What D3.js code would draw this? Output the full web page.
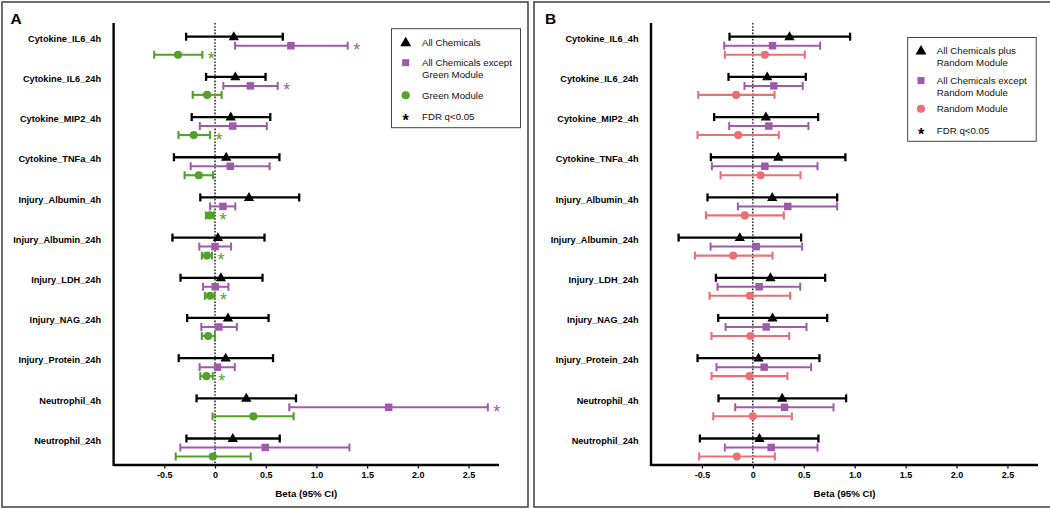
<!DOCTYPE html>
<html><head><meta charset="utf-8">
<script src="https://cdn.jsdelivr.net/npm/d3@7"></script>
<style>
html,body{margin:0;padding:0;background:#fff;}
svg{display:block;font-family:"Liberation Sans",Arial,sans-serif;}
</style></head>
<body><svg id="chart" width="1050" height="509"></svg>
<script>
const categories = ["Cytokine_IL6_4h","Cytokine_IL6_24h","Cytokine_MIP2_4h","Cytokine_TNFa_4h","Injury_Albumin_4h","Injury_Albumin_24h","Injury_LDH_24h","Injury_NAG_24h","Injury_Protein_24h","Neutrophil_4h","Neutrophil_24h"];
const tickValues = [-0.5, 0, 0.5, 1.0, 1.5, 2.0, 2.5];
const tickLabels = ["-0.5","0","0.5","1.0","1.5","2.0","2.5"];
const xTitle = "Beta (95% CI)";

// Panel A
const aAllEst = [0.185, 0.20, 0.155, 0.11, 0.335, 0.028, 0.058, 0.128, 0.105, 0.308, 0.175];
const aAllLo  = [-0.285, -0.088, -0.23, -0.405, -0.145, -0.42, -0.34, -0.275, -0.358, -0.182, -0.282];
const aAllHi  = [0.668, 0.498, 0.545, 0.635, 0.83, 0.488, 0.468, 0.528, 0.572, 0.798, 0.638];
const aAllStar = [0,0,0,0,0,0,0,0,0,0,0];

const aExcEst = [0.748, 0.348, 0.175, 0.15, 0.078, 0.0, 0.002, 0.038, 0.025, 1.712, 0.495];
const aExcLo  = [0.198, 0.082, -0.15, -0.24, -0.048, -0.155, -0.118, -0.135, -0.152, 0.732, -0.342];
const aExcHi  = [1.308, 0.618, 0.51, 0.538, 0.2, 0.158, 0.132, 0.215, 0.195, 2.69, 1.325];
const aExcStar = [1,1,0,0,0,0,0,0,0,1,0];

const aModEst = [-0.365, -0.078, -0.21, -0.16, -0.05, -0.08, -0.05, -0.068, -0.085, 0.378, -0.022];
const aModLo  = [-0.60, -0.22, -0.36, -0.30, -0.09, -0.13, -0.10, -0.13, -0.145, -0.025, -0.388];
const aModHi  = [-0.125, 0.065, -0.05, -0.02, -0.01, -0.03, -0.005, -0.002, -0.022, 0.775, 0.352];
const aModStar = [1,0,1,0,1,1,1,0,1,0,0];

// Panel B
const bAllEst = [0.36, 0.141, 0.128, 0.249, 0.19, -0.128, 0.173, 0.193, 0.056, 0.288, 0.065];
const bAllLo  = [-0.229, -0.239, -0.38, -0.412, -0.445, -0.729, -0.363, -0.34, -0.543, -0.337, -0.52];
const bAllHi  = [0.955, 0.52, 0.641, 0.909, 0.828, 0.474, 0.71, 0.73, 0.654, 0.916, 0.644];
const bAllStar = [0,0,0,0,0,0,0,0,0,0,0];

const bExcEst = [0.193, 0.206, 0.157, 0.118, 0.343, 0.033, 0.062, 0.131, 0.111, 0.311, 0.18];
const bExcLo  = [-0.281, -0.082, -0.232, -0.402, -0.147, -0.415, -0.347, -0.268, -0.357, -0.173, -0.275];
const bExcHi  = [0.661, 0.49, 0.546, 0.635, 0.828, 0.484, 0.465, 0.527, 0.572, 0.792, 0.635];
const bExcStar = [0,0,0,0,0,0,0,0,0,0,0];

const bModEst = [0.118, -0.164, -0.144, 0.075, -0.079, -0.193, -0.029, -0.023, -0.033, 0.0, -0.157];
const bModLo  = [-0.275, -0.536, -0.543, -0.317, -0.461, -0.569, -0.425, -0.406, -0.406, -0.389, -0.527];
const bModHi  = [0.51, 0.213, 0.255, 0.468, 0.304, 0.193, 0.366, 0.357, 0.34, 0.383, 0.216];
const bModStar = [0,0,0,0,0,0,0,0,0,0,0];

const legendA = [["All Chemicals"], ["All Chemicals except","Green Module"], ["Green Module"], ["FDR q<0.05"]];
const legendB = [["All Chemicals plus","Random Module"], ["All Chemicals except","Random Module"], ["Random Module"], ["FDR q<0.05"]];

const BLACK = "#000000", PURPLE = "#a05aab", GREEN = "#55a02b", PINK = "#ea7076";
const FONT = "'Liberation Sans', Arial, sans-serif";

const svg = d3.select("#chart");

function series(est, lo, hi, star, color, shape, off, width, size) {
  return {est, lo, hi, star, color, shape, off, width, size};
}

function drawPanel(p) {
  const g = svg.append("g");
  g.append("rect").attr("x", p.border[0]).attr("y", p.border[1])
    .attr("width", p.border[2]).attr("height", p.border[3])
    .attr("fill", "none").attr("stroke", "#4a4a4a").attr("stroke-width", 1.6);
  g.append("text").attr("x", p.letterX).attr("y", 23.5).text(p.letter)
    .attr("font-family", FONT).attr("font-weight", "bold").attr("font-size", 15.5);

  const x = d3.scaleLinear().domain([-1, 2.8]).range(p.xRange);
  const y = d3.scalePoint().domain(categories).range([36.7, 438.5]);
  const axisY = 465, topY = 23;

  g.append("line").attr("x1", x(0)).attr("x2", x(0)).attr("y1", topY).attr("y2", axisY)
    .attr("stroke", "#000").attr("stroke-width", 1.3).attr("stroke-dasharray", "1.6,1.6");

  g.selectAll(".cat").data(categories).enter().append("text")
    .attr("x", p.xRange[0] - 12.5).attr("y", d => y(d) + 2).attr("dy", "0.35em")
    .attr("text-anchor", "end").attr("font-family", FONT).attr("font-weight", "bold")
    .attr("font-size", 9.2).text(d => d);

  p.series.forEach(s => {
    const rows = categories.map((c, i) => ({c, est: s.est[i], lo: s.lo[i], hi: s.hi[i], star: s.star[i]}));
    const sg = g.append("g");
    sg.selectAll(".bar").data(rows).enter().append("line")
      .attr("x1", d => x(d.lo)).attr("x2", d => x(d.hi))
      .attr("y1", d => y(d.c) + s.off).attr("y2", d => y(d.c) + s.off)
      .attr("stroke", s.color).attr("stroke-width", s.width);
    ["lo","hi"].forEach(k => {
      sg.selectAll(".cap" + k).data(rows).enter().append("line")
        .attr("x1", d => x(d[k])).attr("x2", d => x(d[k]))
        .attr("y1", d => y(d.c) + s.off - 4).attr("y2", d => y(d.c) + s.off + 4)
        .attr("stroke", s.color).attr("stroke-width", s.width);
    });
    sg.selectAll(".pt").data(rows).enter().append("path")
      .attr("transform", d => `translate(${x(d.est)},${y(d.c) + s.off + (s.shape === d3.symbolTriangle ? 0.5 : 0)})`)
      .attr("d", d3.symbol().type(s.shape).size(s.size))
      .attr("fill", s.color);
    sg.selectAll(".star").data(rows.filter(d => d.star)).enter().append("text")
      .attr("x", d => x(d.hi) + 9).attr("y", d => y(d.c) + s.off + 10.5)
      .attr("text-anchor", "middle").attr("font-family", FONT).attr("font-size", 18)
      .attr("fill", s.color).text("*");
  });

  g.append("line").attr("x1", p.xRange[0]).attr("x2", p.xRange[0]).attr("y1", topY).attr("y2", axisY + 1)
    .attr("stroke", "#000").attr("stroke-width", 2.4);
  const ax = g.append("g").attr("transform", `translate(0,${axisY})`)
    .call(d3.axisBottom(x).tickValues(tickValues).tickFormat((d, i) => tickLabels[i]).tickSizeOuter(0).tickSizeInner(3.5).tickPadding(3));
  ax.select(".domain").attr("stroke-width", 2.4).attr("d", `M${p.xRange[0]},0H${p.xRange[1]}`);
  ax.selectAll(".tick line").attr("stroke-width", 1.2);
  ax.selectAll(".tick text").attr("font-family", FONT).attr("font-weight", "bold").attr("font-size", 9).attr("fill", "#000");

  g.append("text").attr("x", (p.xRange[0] + p.xRange[1]) / 2).attr("y", 497)
    .attr("text-anchor", "middle").attr("font-family", FONT).attr("font-weight", "bold")
    .attr("font-size", 9.7).text(xTitle);

  const L = p.legend;
  g.append("rect").attr("x", L.box[0]).attr("y", L.box[1]).attr("width", L.box[2]).attr("height", L.box[3])
    .attr("fill", "#fff").attr("stroke", "#444").attr("stroke-width", 1);
  L.items.forEach((it, i) => {
    const yy = L.ys[i];
    if (it.shape) {
      g.append("path").attr("transform", `translate(${L.mx},${yy + (it.shape === d3.symbolTriangle ? 0.5 : 0)})`)
        .attr("d", d3.symbol().type(it.shape).size(it.size)).attr("fill", it.color);
    } else {
      g.append("text").attr("x", L.mx).attr("y", yy + 9.5).attr("text-anchor", "middle")
        .attr("font-family", FONT).attr("font-weight", "bold").attr("font-size", 16).text("*");
    }
    const t = g.append("text").attr("x", L.tx).attr("y", yy)
      .attr("font-family", FONT).attr("font-size", 9.7).attr("fill", "#111");
    it.lines.forEach((ln, j) => {
      t.append("tspan").attr("x", L.tx).attr("dy", j === 0 ? "0.35em" : "1.2em").text(ln);
    });
  });
}

drawPanel({
  letter: "A", letterX: 10.5, border: [2, 2, 526, 505], xRange: [113.6, 499],
  series: [
    series(aAllEst, aAllLo, aAllHi, aAllStar, BLACK, d3.symbolTriangle, 0, 2.3, 46),
    series(aExcEst, aExcLo, aExcHi, aExcStar, PURPLE, d3.symbolSquare, 9, 2.0, 56),
    series(aModEst, aModLo, aModHi, aModStar, GREEN, d3.symbolCircle, 18, 2.1, 52)
  ],
  legend: {
    box: [391.5, 28.7, 129, 99], mx: 405.7, tx: 422, ys: [42.6, 62.7, 95.3, 116.6],
    items: [
      {shape: d3.symbolTriangle, size: 52, color: BLACK, lines: legendA[0]},
      {shape: d3.symbolSquare, size: 50, color: PURPLE, lines: legendA[1]},
      {shape: d3.symbolCircle, size: 52, color: GREEN, lines: legendA[2]},
      {shape: null, lines: legendA[3]}
    ]
  }
});

drawPanel({
  letter: "B", letterX: 545, border: [534, 2, 1013, 505], xRange: [651, 1038],
  series: [
    series(bAllEst, bAllLo, bAllHi, bAllStar, BLACK, d3.symbolTriangle, 0, 2.3, 46),
    series(bExcEst, bExcLo, bExcHi, bExcStar, PURPLE, d3.symbolSquare, 9, 2.0, 56),
    series(bModEst, bModLo, bModHi, bModStar, PINK, d3.symbolCircle, 18, 2.1, 52)
  ],
  legend: {
    box: [907.7, 37.5, 128.5, 103.8], mx: 921, tx: 936.8, ys: [50.8, 80.6, 108.8, 130.6],
    items: [
      {shape: d3.symbolTriangle, size: 52, color: BLACK, lines: legendB[0]},
      {shape: d3.symbolSquare, size: 50, color: PURPLE, lines: legendB[1]},
      {shape: d3.symbolCircle, size: 52, color: PINK, lines: legendB[2]},
      {shape: null, lines: legendB[3]}
    ]
  }
});
</script>
</body></html>
